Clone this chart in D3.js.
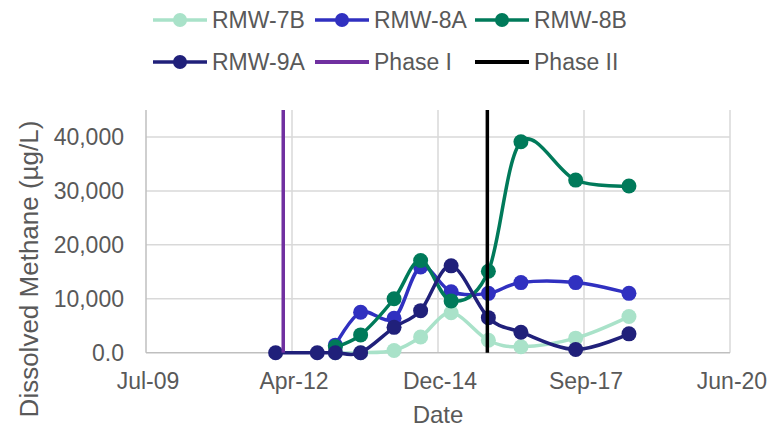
<!DOCTYPE html>
<html lang="en">
<head>
	<meta charset="UTF-8">
	<title>Dissolved Methane</title>
	<script src="https://cdn.jsdelivr.net/npm/d3@7"></script>
	<style>
		body {
			margin: 0;
			background: #ffffff;
		}

		text {
			font-family: "Liberation Sans", Arial, sans-serif;
			fill: #595959;
		}

		.grid line {
			stroke: #d9d9d9;
			stroke-width: 1.5px;
		}

		.axis-line {
			stroke: #bfbfbf;
			stroke-width: 1.5px;
		}

		.series path {
			fill: none;
			stroke-width: 3.5px;
			stroke-linejoin: round;
			stroke-linecap: round;
		}
	</style>
</head>
<body>
<script>
	// sample dates
	var dates = ["2011-12-11", "2012-09-21", "2013-01-23", "2013-07-15", "2014-03-01", "2014-08-30",
		"2015-03-27", "2015-12-07", "2016-07-17", "2017-07-27", "2018-07-27"];

	var seriesNames = ["RMW-7B", "RMW-8A", "RMW-8B", "RMW-9A"];
	var rmw7b = [null, null, 0, 0, 400, 2900, 7400, 2300, 1100, 2700, 6700];
	var rmw8a = [null, null, 1400, 7500, 6400, 15900, 11300, 11000, 13000, 13000, 11000];
	var rmw8b = [null, null, 1100, 3300, 10000, 17100, 9600, 15100, 39100, 32000, 30900];
	var rmw9a = [0, 0, 0, 0, 4700, 7800, 16100, 6500, 3800, 600, 3500];
	var seriesColors = ["#a9e2c9", "#3030c0", "#007a5a", "#20207a"];

	var phaseNames = ["Phase I", "Phase II"];
	var phaseDates = ["2012-02-01", "2015-11-30"];
	var phaseColors = ["#7030a0", "#000000"];

	var xTickDates = ["2009-07-06", "2012-04-01", "2014-12-27", "2017-09-22", "2020-06-18"];
	var yTicks = [0, 10000, 20000, 30000, 40000];
	var yMax = 45000;

	var width = 773, height = 427;
	var plotL = 146, plotR = 730, plotT = 110, plotB = 352.7;

	var parse = d3.timeParse("%Y-%m-%d");

	var x = d3.scaleTime()
		.domain([parse(xTickDates[0]), parse(xTickDates[xTickDates.length - 1])])
		.range([plotL, plotR]);
	var y = d3.scaleLinear()
		.domain([0, yMax])
		.range([plotB, plotT]);

	var svg = d3.select("body").append("svg")
		.attr("width", width)
		.attr("height", height);

	// gridlines
	var grid = svg.append("g").attr("class", "grid");
	grid.selectAll(".h")
		.data(yTicks.slice(1))
		.enter().append("line")
		.attr("x1", plotL).attr("x2", plotR)
		.attr("y1", function (d) { return y(d); })
		.attr("y2", function (d) { return y(d); });
	grid.selectAll(".v")
		.data(xTickDates.slice(1))
		.enter().append("line")
		.attr("x1", function (d) { return x(parse(d)); })
		.attr("x2", function (d) { return x(parse(d)); })
		.attr("y1", plotT).attr("y2", plotB);

	svg.append("line").attr("class", "axis-line")
		.attr("x1", plotL).attr("x2", plotL).attr("y1", plotT).attr("y2", plotB);
	svg.append("line").attr("class", "axis-line")
		.attr("x1", plotL).attr("x2", plotR).attr("y1", plotB).attr("y2", plotB);

	// tick labels
	var yFmt = d3.format(",");
	svg.selectAll(".ylab")
		.data(yTicks)
		.enter().append("text")
		.attr("x", plotL - 22)
		.attr("y", function (d) { return y(d) + 8; })
		.attr("text-anchor", "end")
		.style("font-size", "23px")
		.text(function (d) { return d === 0 ? "0.0" : yFmt(d); });

	var xFmt = d3.timeFormat("%b-%y");
	svg.selectAll(".xlab")
		.data(xTickDates)
		.enter().append("text")
		.attr("x", function (d) { return x(parse(d)) + 2; })
		.attr("y", plotB + 36)
		.attr("text-anchor", "middle")
		.style("font-size", "23px")
		.text(function (d) { return xFmt(parse(d)); });

	svg.append("text")
		.attr("x", (plotL + plotR) / 2)
		.attr("y", 423)
		.attr("text-anchor", "middle")
		.style("font-size", "24px")
		.text("Date");

	svg.append("text")
		.attr("transform", "translate(38," + 269 + ") rotate(-90)")
		.attr("text-anchor", "middle")
		.style("font-size", "26px")
		.text("Dissolved Methane (µg/L)");

	// series
	var allValues = [rmw7b, rmw8a, rmw8b, rmw9a];
	var line = d3.line()
		.x(function (d) { return x(d.date); })
		.y(function (d) { return y(d.value); })
		.curve(d3.curveCardinal.tension(0));

	allValues.forEach(function (vals, i) {
		var pts = [];
		vals.forEach(function (v, j) {
			if (v !== null) pts.push({date: parse(dates[j]), value: v});
		});
		var g = svg.append("g").attr("class", "series");
		g.append("path")
			.datum(pts)
			.attr("d", line)
			.style("stroke", seriesColors[i]);
		g.selectAll("circle")
			.data(pts)
			.enter().append("circle")
			.attr("cx", function (d) { return x(d.date); })
			.attr("cy", function (d) { return y(d.value); })
			.attr("r", 7.5)
			.style("fill", seriesColors[i]);
	});

	// phase lines
	phaseDates.forEach(function (d, i) {
		svg.append("line")
			.attr("x1", x(parse(d))).attr("x2", x(parse(d)))
			.attr("y1", plotT).attr("y2", plotB)
			.style("stroke", phaseColors[i])
			.style("stroke-width", 3.5);
	});

	// legend
	var legendItems = seriesNames.map(function (n, i) {
		return {name: n, color: seriesColors[i], marker: true};
	}).concat(phaseNames.map(function (n, i) {
		return {name: n, color: phaseColors[i], marker: false};
	}));
	var colX = [153, 315, 475], rowY = [20, 62];

	legendItems.forEach(function (d, i) {
		var lx = colX[i % 3], ly = rowY[Math.floor(i / 3)];
		var lg = svg.append("g");
		lg.append("line")
			.attr("x1", lx).attr("x2", lx + 54)
			.attr("y1", ly).attr("y2", ly)
			.style("stroke", d.color)
			.style("stroke-width", d.marker ? 3.5 : 4);
		if (d.marker) {
			lg.append("circle")
				.attr("cx", lx + 27).attr("cy", ly)
				.attr("r", 7)
				.style("fill", d.color);
		}
		lg.append("text")
			.attr("x", lx + 59)
			.attr("y", ly + 8)
			.style("font-size", "23px")
			.text(d.name);
	});
</script>
</body>
</html>
